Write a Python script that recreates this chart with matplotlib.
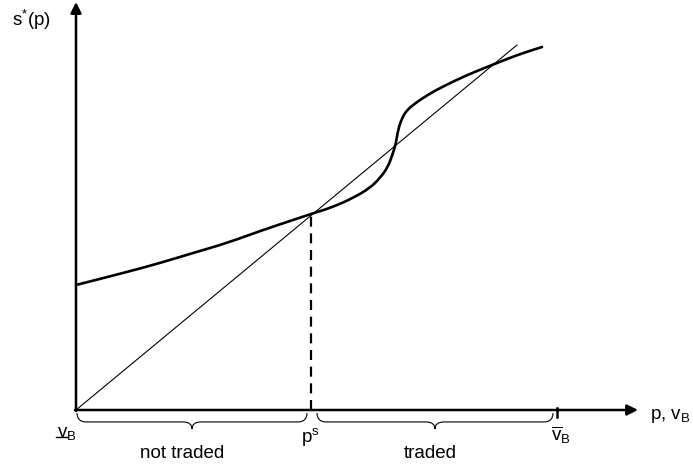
import matplotlib
matplotlib.use("Agg")
import matplotlib.pyplot as plt
from matplotlib.path import Path
from matplotlib.patches import PathPatch
import numpy as np

plt.rcParams['font.family'] = ['Liberation Sans', 'DejaVu Sans']
plt.rcParams['mathtext.fontset'] = 'custom'
plt.rcParams['mathtext.rm'] = 'Liberation Sans'
plt.rcParams['mathtext.it'] = 'Liberation Sans'
plt.rcParams['mathtext.bf'] = 'Liberation Sans:bold'

# ---- data (in chart units) ----
curve_x = [0, 51, 84, 117, 151, 184, 217, 235, 257, 277, 294, 304, 312, 317,
           320, 322, 326, 331, 339, 347, 355, 367, 391, 416, 441, 466]
curve_y = [125, 138, 147, 157, 167, 179, 190, 196, 203, 212, 222, 232, 243, 257,
           267, 280, 292, 300, 306.5, 312, 317, 323.5, 335, 345, 355, 363]
diag_x = [0, 441]
diag_y = [0, 365]
p_s = 235
v_B_low = 0
v_B_high = 481
x_max = 562
y_max = 408
axis_labels = ["p, v$_\\mathrm{B}$", "s$^{*}$(p)"]
region_labels = ["not traded", "traded"]

fig = plt.figure(figsize=(6.93, 4.70), dpi=100)
ax = fig.add_axes([0, 0, 1, 1])
ax.set_xlim(-76, 617)
ax.set_ylim(-60, 410)
ax.axis('off')

# axes with arrows
ax.annotate('', xy=(x_max, 0), xytext=(-1, 0),
            arrowprops=dict(arrowstyle='-|>', lw=1.8, color='black',
                            mutation_scale=16, shrinkA=0, shrinkB=0))
ax.annotate('', xy=(0, y_max), xytext=(0, -1),
            arrowprops=dict(arrowstyle='-|>', lw=1.8, color='black',
                            mutation_scale=16, shrinkA=0, shrinkB=0))

# diagonal 45-degree line
ax.plot(diag_x, diag_y, color='black', lw=0.8)

# s*(p) curve, smoothed with quadratic Bezier segments through the read points
pts = np.column_stack([curve_x, curve_y]).astype(float)
verts = [tuple(pts[0]), tuple((pts[0] + pts[1]) / 2)]
codes = [Path.MOVETO, Path.LINETO]
for i in range(1, len(pts) - 1):
    verts += [tuple(pts[i]), tuple((pts[i] + pts[i + 1]) / 2)]
    codes += [Path.CURVE3, Path.CURVE3]
verts.append(tuple(pts[-1]))
codes.append(Path.LINETO)
ax.add_patch(PathPatch(Path(verts, codes), fc='none', ec='black', lw=1.9,
                       capstyle='round', joinstyle='round'))

# dashed vertical at p^s
ps_y = np.interp(p_s, curve_x, curve_y)
ax.plot([p_s, p_s], [0, ps_y], color='black', lw=1.6, dashes=(4.5, 3))

# tick at upper v_B
ax.plot([v_B_high, v_B_high], [-7, 2], color='black', lw=1.8)

def brace(x0, x1, xm, y0=-3, h=16, r=9):
    mid = y0 - h * 0.56
    bot = y0 - h
    v = [(x0, y0), (x0, mid), (x0 + r, mid),
         (xm - r, mid),
         (xm, mid), (xm, bot),
         (xm, mid), (xm + r, mid),
         (x1 - r, mid),
         (x1, mid), (x1, y0)]
    c = [Path.MOVETO, Path.CURVE3, Path.CURVE3,
         Path.LINETO,
         Path.CURVE3, Path.CURVE3,
         Path.CURVE3, Path.CURVE3,
         Path.LINETO,
         Path.CURVE3, Path.CURVE3]
    ax.add_patch(PathPatch(Path(v, c), fc='none', ec='black', lw=0.8))

brace(v_B_low + 1, p_s - 4, 116)
brace(p_s + 6, v_B_high - 4, 359)

fs = 13.5
ax.text(106, -43, region_labels[0], ha='center', va='center', fontsize=fs)
ax.text(354, -43, region_labels[1], ha='center', va='center', fontsize=fs)

ax.text(-45, 390, axis_labels[1], ha='center', va='center', fontsize=fs)
ax.text(574, -6, axis_labels[0], ha='left', va='center', fontsize=fs)

ax.text(p_s - 1, -16, "p$^\\mathrm{s}$", ha='center', va='top', fontsize=fs)
ax.text(-19, -15, "v$_\\mathrm{B}$", ha='left', va='top', fontsize=fs)
ax.plot([-20, -9], [-27, -27], color='black', lw=1.0)
ax.text(v_B_high - 6, -14, "$\\overline{\\mathrm{v}}_\\mathrm{B}$", ha='left', va='top', fontsize=fs)

fig.savefig("out.png", dpi=100)
